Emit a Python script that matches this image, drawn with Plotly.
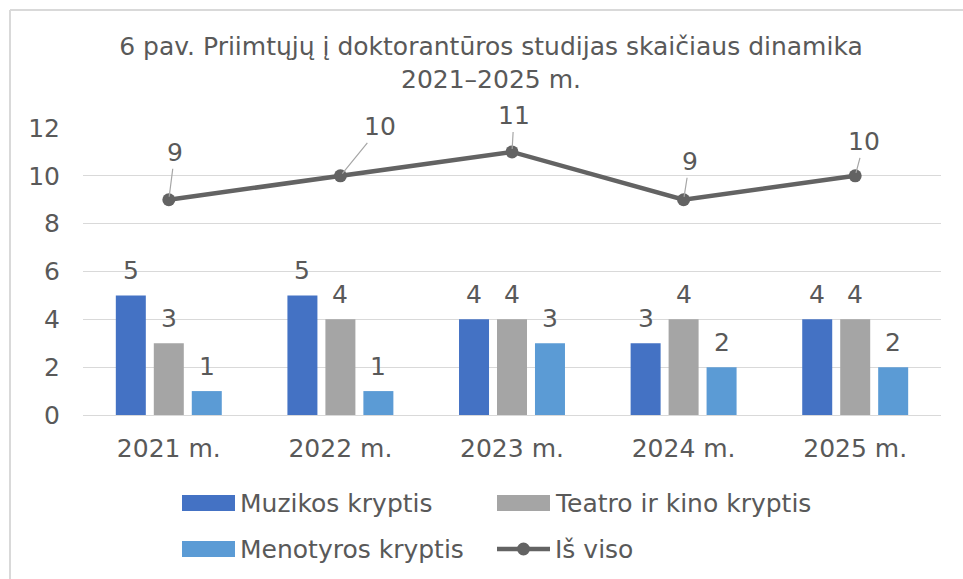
import plotly.graph_objects as go

# ---- data ----
years = ["2021 m.", "2022 m.", "2023 m.", "2024 m.", "2025 m."]
muzika = [5, 5, 4, 3, 4]
teatras = [3, 4, 4, 4, 4]
menotyra = [1, 1, 3, 2, 2]
is_viso = [9, 10, 11, 9, 10]

series_names = ["Muzikos kryptis", "Teatro ir kino kryptis", "Menotyros kryptis", "Iš viso"]
colors = ["#4472C4", "#A5A5A5", "#5B9BD5", "#636363"]

# label offsets for the total line (pixels, text relative to point)
line_label_ax = [6, 40, 2, 6, 9]
line_label_ay = [-47, -49, -36, -38, -34]

TXT = "#595959"
FONT = "DejaVu Sans, Verdana, sans-serif"
FS = 25

# ---- geometry ----
W, H = 963, 579
ML, MR, MT, MB = 83, 22, 128, 164
PW = W - ML - MR
PH = H - MT - MB
BARGAP = 0.336
GROUPGAP = 0.21


def px_x(px):
    return (px - ML) / PW


def px_y(py):
    return (H - MB - py) / PH


fig = go.Figure()

bar_series = [muzika, teatras, menotyra]
for i, vals in enumerate(bar_series):
    fig.add_trace(go.Bar(
        x=years, y=vals, name=series_names[i],
        marker=dict(color=colors[i], line=dict(width=0)),
        showlegend=False,
    ))

fig.add_trace(go.Scatter(
    x=years, y=is_viso, name=series_names[3],
    mode="lines+markers",
    line=dict(color=colors[3], width=4.5),
    marker=dict(color=colors[3], size=13),
    showlegend=False,
))

annotations = []

# bar value labels
slot = (1 - BARGAP) * PW / len(years) / 3
for i, vals in enumerate(bar_series):
    for yr, v in zip(years, vals):
        annotations.append(dict(
            x=yr, y=v, xref="x", yref="y", text=str(v), showarrow=False,
            xshift=(i - 1) * slot, yshift=25, yanchor="middle",
            font=dict(size=FS, color=TXT, family=FONT),
        ))

# total line labels with leader lines
for yr, v, ax, ay in zip(years, is_viso, line_label_ax, line_label_ay):
    annotations.append(dict(
        x=yr, y=v, xref="x", yref="y", text=str(v),
        showarrow=True, arrowhead=0, arrowwidth=1.2, arrowcolor="#A6A6A6",
        ax=ax, ay=ay, standoff=3,
        font=dict(size=FS, color=TXT, family=FONT),
    ))

# custom legend
shapes = []
legend_pos = [(182, 503), (497, 503), (182, 549), (497, 549)]
for i, (lx, ly) in enumerate(legend_pos):
    if i < 3:
        shapes.append(dict(
            type="rect", xref="paper", yref="paper",
            x0=px_x(lx), x1=px_x(lx + 53), y0=px_y(ly + 8), y1=px_y(ly - 8),
            fillcolor=colors[i], line=dict(width=0),
        ))
    else:
        shapes.append(dict(
            type="line", xref="paper", yref="paper",
            x0=px_x(lx), x1=px_x(lx + 53), y0=px_y(ly), y1=px_y(ly),
            line=dict(color=colors[i], width=4.5),
        ))
        shapes.append(dict(
            type="circle", xref="paper", yref="paper",
            x0=px_x(lx + 20), x1=px_x(lx + 33), y0=px_y(ly + 6.5), y1=px_y(ly - 6.5),
            fillcolor=colors[i], line=dict(width=0),
        ))
    annotations.append(dict(
        x=px_x(lx + 56), y=px_y(ly), xref="paper", yref="paper",
        text=series_names[i], showarrow=False, xanchor="left", yanchor="middle",
        font=dict(size=FS, color=TXT, family=FONT),
    ))

# chart area border (only top and left edges fall inside the picture)
shapes.append(dict(
    type="line", xref="paper", yref="paper", layer="below",
    x0=px_x(10), x1=px_x(W + 50), y0=px_y(10), y1=px_y(10),
    line=dict(color="#D9D9D9", width=2),
))
shapes.append(dict(
    type="line", xref="paper", yref="paper", layer="below",
    x0=px_x(10), x1=px_x(10), y0=px_y(10), y1=px_y(H + 50),
    line=dict(color="#D9D9D9", width=2),
))

fig.update_layout(
    width=W, height=H,
    margin=dict(l=ML, r=MR, t=MT, b=MB),
    paper_bgcolor="white", plot_bgcolor="white",
    barmode="group", bargap=BARGAP, bargroupgap=GROUPGAP,
    title=dict(
        text="6 pav. Priimtųjų į doktorantūros studijas skaičiaus dinamika<br>2021–2025 m.",
        x=491 / W, xanchor="center", xref="container",
        y=1 - 55 / H, yanchor="middle", yref="container",
        font=dict(size=FS, color=TXT, family=FONT),
    ),
    font=dict(family=FONT, color=TXT, size=FS),
    xaxis=dict(
        showgrid=False, showline=False, zeroline=False,
        tickfont=dict(size=FS, color=TXT, family=FONT), ticklabelstandoff=16,
    ),
    yaxis=dict(
        range=[0, 12], dtick=2, showgrid=True, gridcolor="#D9D9D9", gridwidth=1.3,
        zeroline=True, zerolinecolor="#D9D9D9", zerolinewidth=1.3,
        showline=False, tickfont=dict(size=FS, color=TXT, family=FONT), ticklabelstandoff=22,
    ),
    annotations=annotations,
    shapes=shapes,
)

fig.write_html(
    "out.html",
    config={"displayModeBar": False},
    post_script="document.body.style.margin='0';",
)
